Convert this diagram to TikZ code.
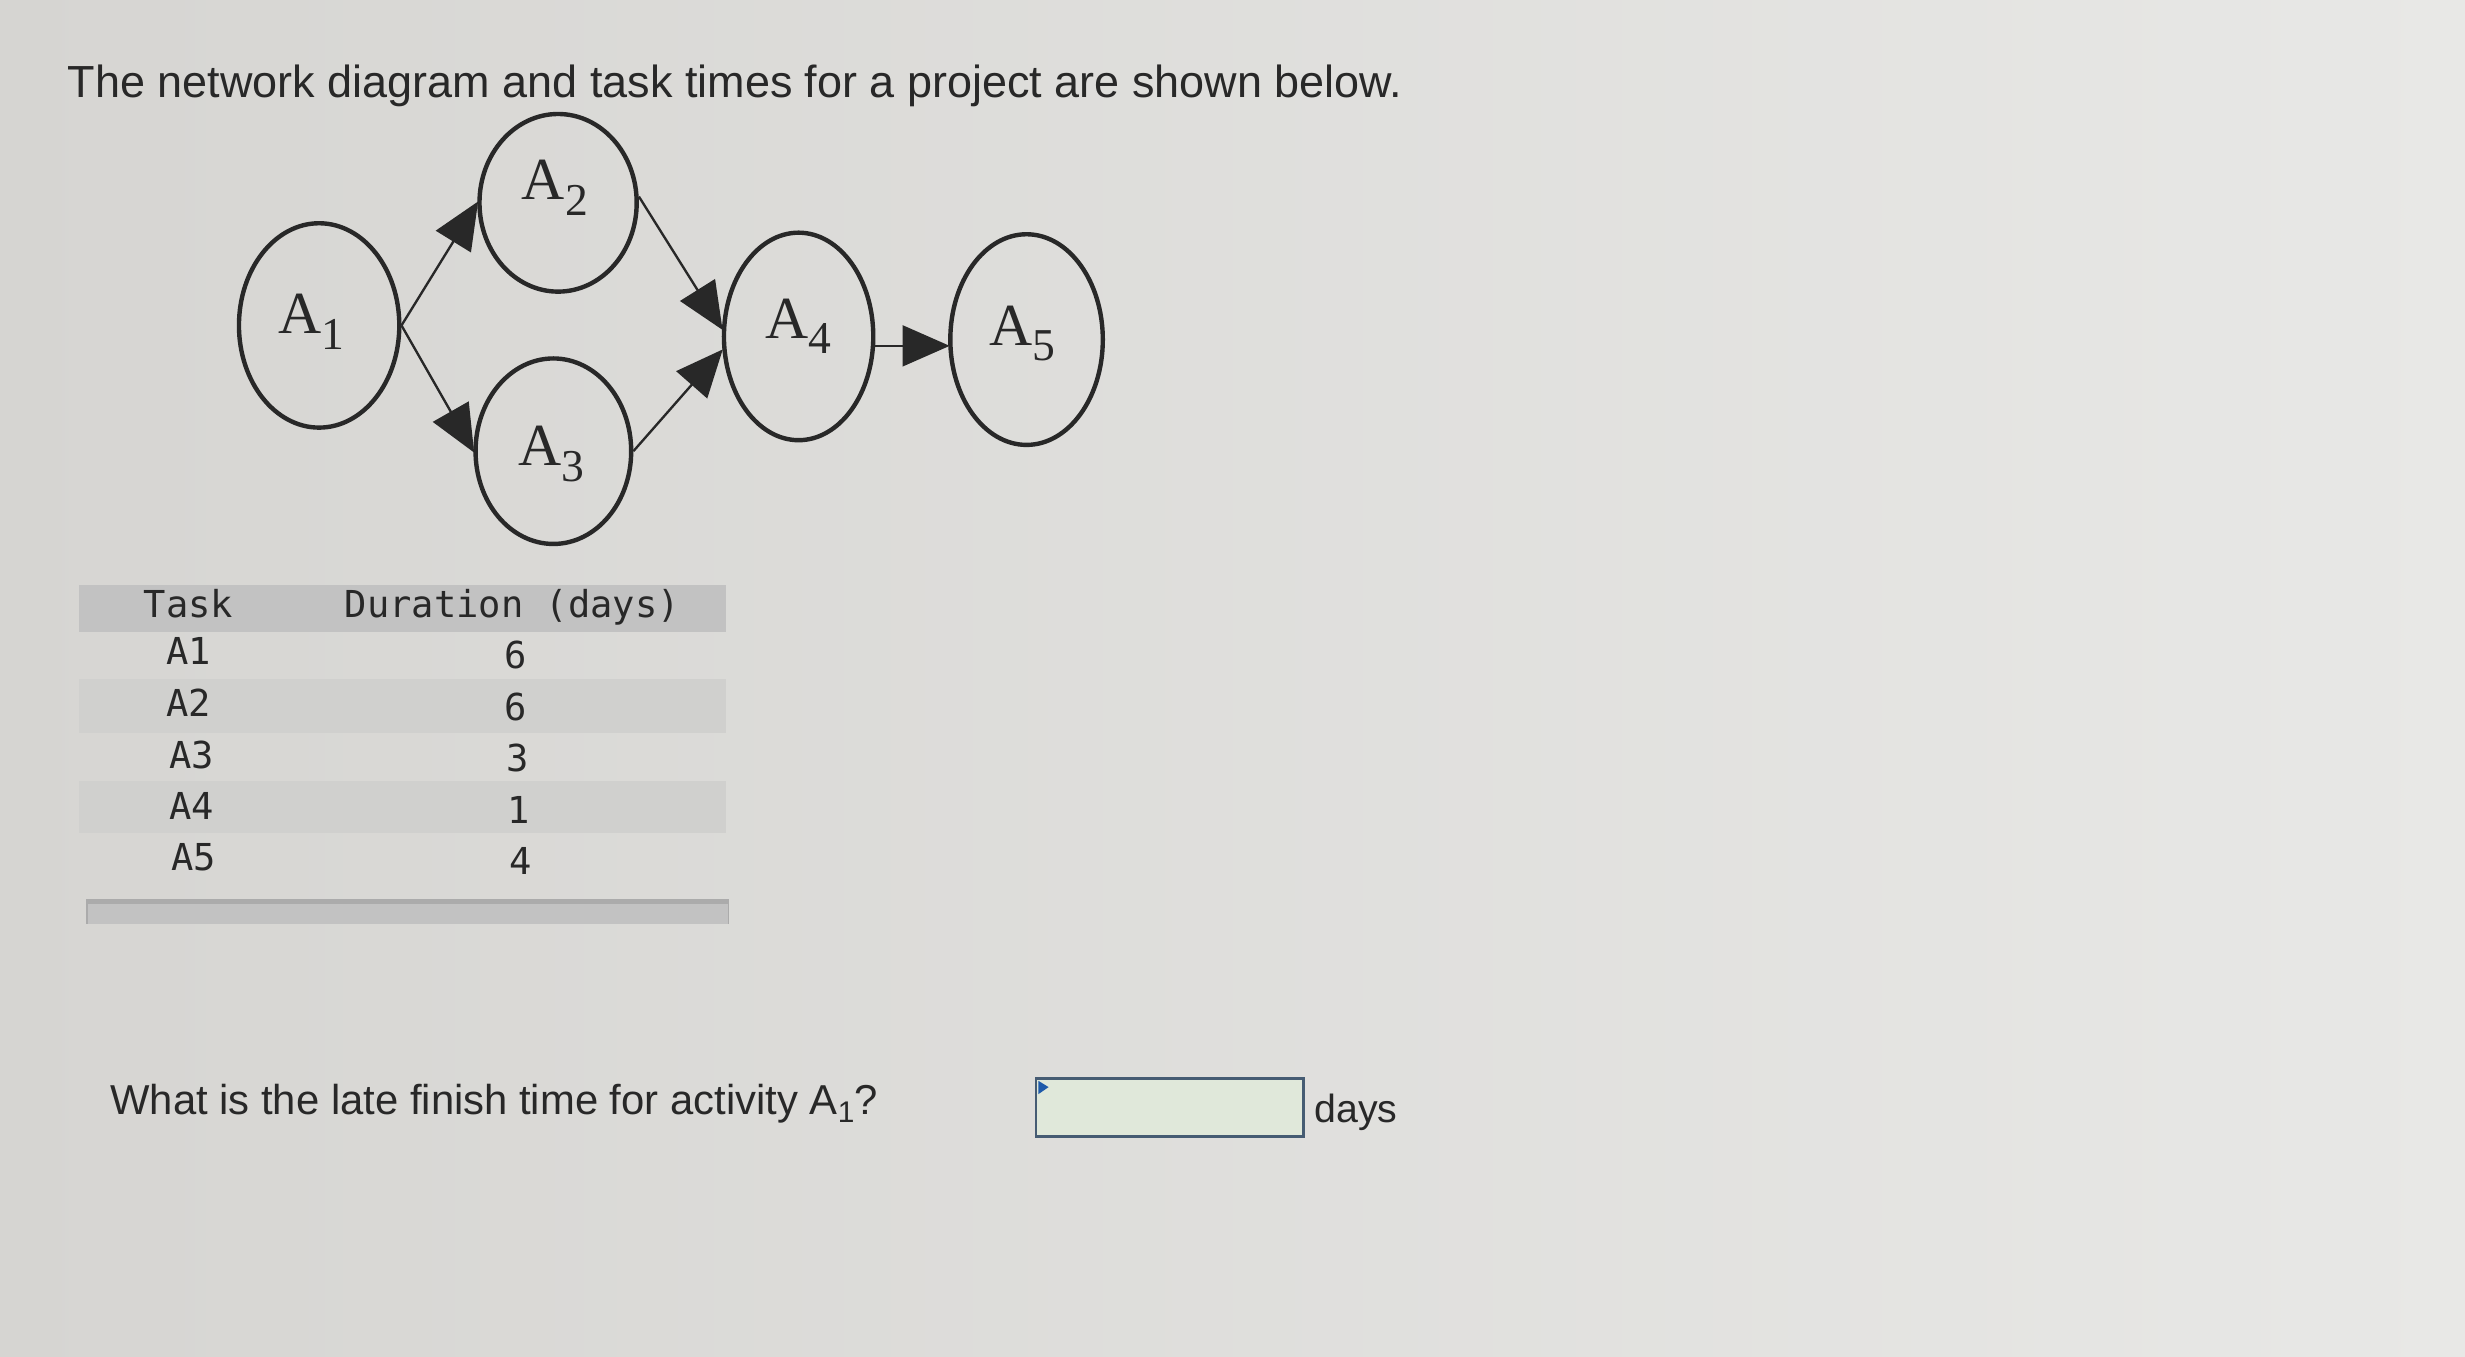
\documentclass[tikz,border=0pt]{standalone}
\usepackage{fontspec}
\setmainfont{Liberation Sans}
\newfontfamily\serifA{Liberation Serif}
\newfontfamily\monoA{DejaVu Sans Mono}
\usetikzlibrary{arrows.meta,shapes.geometric}
\definecolor{bgL}{RGB}{214,213,210}
\definecolor{bgR}{RGB}{232,232,230}
\definecolor{ink}{RGB}{40,40,40}
\definecolor{hdr}{RGB}{194,194,194}
\definecolor{band}{RGB}{208,208,206}
\definecolor{boxline}{RGB}{70,92,115}
\definecolor{boxfill}{RGB}{224,232,218}
\definecolor{cue}{RGB}{30,90,170}
\tikzset{
  act/.style={ellipse, draw=ink, line width=2.8pt, inner sep=0pt, text height=0pt, text depth=0pt},
  link/.style={draw=ink, line width=1.5pt, -{Triangle[length=30pt,width=26pt]}, shorten >=-1pt},
  lbl/.style={font=\serifA\fontsize{38}{38}\selectfont, text=ink},
  mono/.style={font=\monoA\fontsize{23.6}{23.6}\selectfont, text=ink, anchor=base},
}
% #1 subscript, #2 vertical raise, #3 horizontal shift
\newcommand{\actlbl}[3]{\hspace*{#3}\raisebox{#2}{A\raisebox{-10pt}{\fontsize{29}{29}\selectfont #1}}}
\begin{document}
\begin{tikzpicture}[x=1pt,y=-1pt]
\useasboundingbox (0,0) rectangle (1568,863);
\shade[left color=bgL, right color=bgR] (0,0) rectangle (1568,863);
% title
\node[anchor=base west, inner sep=0pt, text=ink, font=\fontsize{28.6}{28.6}\selectfont] (title) at (43,62)
  {The network diagram and task times for a project are shown below.};
% network
\node[act, minimum width=102pt, minimum height=130pt, lbl] (A1) at (203,207) {\actlbl{1}{-5pt}{-10pt}};
\node[act, minimum width=100pt, minimum height=113pt, lbl] (A2) at (355,129) {\actlbl{2}{2pt}{-4pt}};
\node[act, minimum width=99pt, minimum height=118pt, lbl] (A3) at (352,287) {\actlbl{3}{-9pt}{-3pt}};
\node[act, minimum width=95pt, minimum height=132pt, lbl] (A4) at (508,214) {\actlbl{4}{-1pt}{0pt}};
\node[act, minimum width=97pt, minimum height=134pt, lbl] (A5) at (653,216) {\actlbl{5}{-3.5pt}{-5pt}};
\draw[link] (A1.east) -- (A2.west);
\draw[link] (A1.east) -- (A3.west);
\draw[link] ([yshift=4pt]A2.east) -- ([yshift=5pt]A4.west);
\draw[link] (A3.east) -- ([yshift=-9pt]A4.west);
\draw[link] ([yshift=-6pt]A4.east) -- ([yshift=-6pt]A4.east -| A5.west);
% table
\fill[hdr] (50,372) rectangle (462,402);
\fill[band] (50,432) rectangle (462,466);
\fill[band] (50,497) rectangle (462,530);
\node[mono] (hT) at (120,393) {Task};
\node[mono] (hD) at (326,393) {Duration (days)};
\node[mono] (t1) at (120,423) {A1};
\node[mono] (t2) at (120,456) {A2};
\node[mono] (t3) at (122,489) {A3};
\node[mono] (t4) at (122,521) {A4};
\node[mono] (t5) at (123,554) {A5};
\node[mono] (d1) at (328,425) {6};
\node[mono] (d2) at (328,458) {6};
\node[mono] (d3) at (329,491) {3};
\node[mono] (d4) at (330,524) {1};
\node[mono] (d5) at (331,556) {4};
\fill[hdr!88!black] (55,572) rectangle (464,588);
\fill[hdr] (56,575) rectangle (463,588);
% question
\node[anchor=base west, inner sep=0pt, text=ink, font=\fontsize{26.6}{26.6}\selectfont] (q) at (70,709)
  {What is the late finish time for activity A\raisebox{-5pt}{\fontsize{19}{19}\selectfont 1}?};
\draw[draw=boxline, fill=boxfill, line width=1.8pt] (659,686) rectangle (829,723);
\fill[cue] (660.5,687.5) -- (667,691.5) -- (660.5,696) -- cycle;
\node[anchor=base west, inner sep=0pt, text=ink, font=\fontsize{25}{25}\selectfont] (days) at (836,714) {days};
\end{tikzpicture}
\end{document}
